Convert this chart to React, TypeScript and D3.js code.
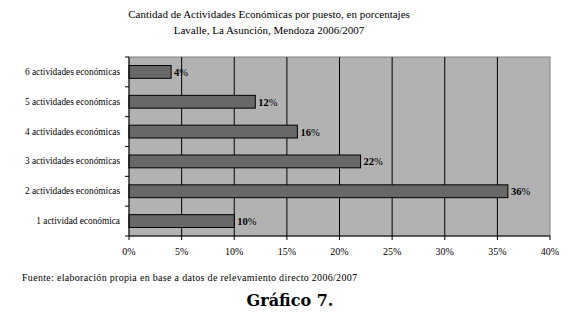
import React from "react";
import * as d3 from "d3";

const categories = [
  "6 actividades económicas",
  "5 actividades económicas",
  "4 actividades económicas",
  "3 actividades económicas",
  "2 actividades económicas",
  "1 actividad económica",
];
const values = [4, 12, 16, 22, 36, 10];
const xTicks = [0, 5, 10, 15, 20, 25, 30, 35, 40];
const titleLines = [
  "Cantidad de Actividades Económicas por puesto, en porcentajes",
  "Lavalle, La Asunción, Mendoza 2006/2007",
];
const sourceText = "Fuente: elaboración propia en base a datos de relevamiento directo 2006/2007";
const captionText = "Gráfico 7.";

export default function App() {
  const W = 580, H = 316;
  const left = 129, right = 550, top = 57, bottom = 236;
  const x = d3.scaleLinear().domain([0, 40]).range([left, right]);
  const y = d3.scaleBand().domain(categories).range([top, bottom]).paddingInner(0.57).paddingOuter(0.285);
  const serif = "'Liberation Serif', 'Times New Roman', serif";
  const band = (bottom - top) / categories.length;
  return (
    <svg width={W} height={H} style={{ position: "absolute", left: 0, top: 0, background: "#fff" }} fontFamily={serif}>
      <rect x={0} y={0} width={W} height={H} fill="#fff" />
      {titleLines.map((t, i) => (
        <text key={i} x={269} y={18 + i * 16} textAnchor="middle" fontSize={11}>{t}</text>
      ))}
      <rect x={left} y={top} width={right - left} height={bottom - top} fill="#b2b2b2" stroke="#808080" strokeWidth={1} />
      {xTicks.slice(1, -1).map((t) => (
        <line key={t} x1={x(t)} x2={x(t)} y1={top} y2={bottom} stroke="#000" strokeWidth={1} />
      ))}
      {categories.map((c, i) => (
        <g key={c}>
          <rect x={x(0)} y={y(c)!} width={x(values[i]) - x(0)} height={y.bandwidth()} fill="#686868" stroke="#000" strokeWidth={1} />
          <text x={x(values[i]) + 3} y={y(c)! + y.bandwidth() / 2 + 4} fontSize={10.5} fontWeight="bold">
            {values[i]}<tspan fontWeight="normal">%</tspan>
          </text>
          <text x={120} y={y(c)! + y.bandwidth() / 2 + 3} textAnchor="end" fontSize={9.3}>{c}</text>
        </g>
      ))}
      <line x1={left} x2={left} y1={top} y2={bottom} stroke="#000" />
      {d3.range(categories.length + 1).map((i) => (
        <line key={i} x1={left - 4} x2={left} y1={top + i * band} y2={top + i * band} stroke="#000" />
      ))}
      <line x1={left} x2={right} y1={bottom} y2={bottom} stroke="#000" />
      {xTicks.map((t) => (
        <g key={t}>
          <line x1={x(t)} x2={x(t)} y1={bottom} y2={bottom + 4} stroke="#000" />
          <text x={x(t)} y={bottom + 19} textAnchor="middle" fontSize={10}>{t}%</text>
        </g>
      ))}
      <text x={22} y={281} fontSize={10} textLength={335} lengthAdjust="spacing">{sourceText}</text>
      <text x={290} y={306} textAnchor="middle" fontSize={16} fontWeight="bold" fontFamily="'DejaVu Serif', serif">{captionText}</text>
    </svg>
  );
}
